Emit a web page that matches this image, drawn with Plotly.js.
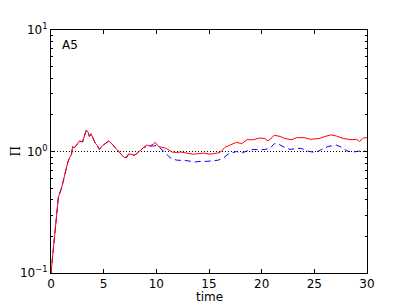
<!DOCTYPE html>
<html><head><meta charset="utf-8">
<script src="https://cdn.plot.ly/plotly-3.0.1.min.js"></script>
<style>html,body{margin:0;padding:0;background:#fff}</style>
</head><body>
<div id="chart" style="width:407px;height:305px"></div>
<script>
// Red (solid) series
const redX = [0,0.7,1.0,1.3,1.6,1.8,1.95,2.05,2.2,2.4,2.7,3.0,3.15,3.35,3.5,3.65,3.8,4.0,4.2,4.4,4.6,4.9,5.2,5.5,5.8,6.1,6.4,6.7,6.95,7.2,7.35,7.6,7.9,8.2,8.5,8.8,9.1,9.4,9.7,9.9,10.2,10.5,10.8,11.1,11.5,11.9,12.3,12.9,13.5,14.0,14.5,15.1,15.6,16.05,16.5,17.0,17.6,18.1,18.6,19.2,19.8,20.3,20.6,21.2,21.75,22.2,22.85,23.3,24.1,24.6,25.1,25.5,26.0,26.6,27.1,27.75,28.55,29.0,29.3,29.66,30];
const redY = [0.1,0.42,0.5,0.65,0.82,0.9,0.95,1.1,1.07,1.12,1.22,1.2,1.3,1.5,1.45,1.33,1.4,1.27,1.17,1.12,1.04,1.12,1.18,1.22,1.15,1.07,1.0,0.93,0.89,0.9,0.95,0.95,0.93,0.97,1.03,1.08,1.13,1.11,1.15,1.19,1.1,1.09,1.07,1.04,0.99,0.98,0.99,0.97,0.95,0.96,0.97,0.95,0.97,0.98,1.08,1.13,1.19,1.16,1.25,1.25,1.29,1.28,1.22,1.36,1.33,1.28,1.25,1.3,1.3,1.26,1.28,1.28,1.33,1.37,1.34,1.28,1.25,1.26,1.21,1.29,1.3];
// Blue (dashed) series
const blueX = [0,0.7,1.0,1.3,1.6,1.8,1.95,2.05,2.2,2.4,2.7,3.0,3.15,3.35,3.5,3.65,3.8,4.0,4.2,4.4,4.6,4.9,5.2,5.5,5.8,6.1,6.4,6.7,6.95,7.2,7.35,7.6,7.9,8.2,8.5,8.8,9.1,9.4,9.7,10.0,10.3,10.66,11.0,11.3,11.9,12.4,12.9,13.7,14.15,14.8,15.1,15.5,15.9,16.4,16.8,17.3,17.6,18.1,18.6,19.2,19.85,20.3,20.8,21.2,21.6,22.2,22.7,23.3,23.8,24.3,25.1,25.7,26.3,27.1,27.6,28.1,28.7,29.35,30];
const blueY = [0.1,0.42,0.5,0.65,0.82,0.9,0.95,1.1,1.07,1.12,1.22,1.2,1.3,1.5,1.45,1.33,1.4,1.27,1.17,1.12,1.04,1.12,1.18,1.22,1.15,1.07,1.0,0.93,0.89,0.9,0.95,0.95,0.93,0.97,1.03,1.08,1.1,1.1,1.11,1.12,1.08,1.01,0.94,0.89,0.85,0.85,0.84,0.82,0.83,0.83,0.83,0.84,0.85,0.89,0.95,0.98,1.0,0.97,1.01,1.04,1.03,1.04,1.06,1.16,1.15,1.08,1.04,1.06,1.06,1.01,0.98,1.04,1.1,1.13,1.08,1.01,0.99,1.01,1.0];
const yTickVals = [0.1, 1, 10];
const yTickText = ['10<sup>\u22121</sup>', '10<sup>0</sup>', '10<sup>1</sup>'];
const xTickVals = [0, 5, 10, 15, 20, 25, 30];
const yMinorVals = [0.2,0.3,0.4,0.5,0.6,0.7,0.8,0.9,2,3,4,5,6,7,8,9];
const refLevel = 1;

const font = {family: 'DejaVu Sans', size: 12, color: '#000'};
const traces = [
  {x: blueX, y: blueY, mode: 'lines', line: {color: '#0000ff', width: 1, dash: '6px,4px'}, hoverinfo: 'skip'},
  {x: redX, y: redY, mode: 'lines', line: {color: '#ff0000', width: 1}, hoverinfo: 'skip'}
];
const layout = {
  width: 407, height: 305,
  margin: {l: 51, r: 40, t: 30, b: 32, pad: 0},
  paper_bgcolor: '#fff', plot_bgcolor: '#fff',
  showlegend: false,
  font: font,
  xaxis: {
    range: [0, 30], tickvals: xTickVals, ticks: 'inside', ticklen: 4, tickwidth: 1, tickcolor: '#000',
    showline: true, linecolor: '#000', linewidth: 1, mirror: 'ticks', showgrid: false, zeroline: false,
    tickfont: font, ticklabelstandoff: 0
  },
  yaxis: {
    type: 'log', range: [-1, 1], tickvals: yTickVals, ticktext: yTickText,
    ticks: 'inside', ticklen: 4, tickwidth: 1, tickcolor: '#000',
    showline: true, linecolor: '#000', linewidth: 1, mirror: 'ticks', showgrid: false, zeroline: false,
    tickfont: font,
    minor: {tickmode: 'array', tickvals: yMinorVals, ticks: 'inside', ticklen: 2, tickcolor: '#000', showgrid: false}
  },
  shapes: [{type: 'line', xref: 'paper', x0: 0, x1: 1, yref: 'y', y0: refLevel, y1: refLevel,
    line: {color: '#000', width: 1, dash: '1px,2px'}, layer: 'below'}],
  annotations: [
    {text: 'A5', xref: 'paper', yref: 'paper', x: 0.03, y: 0.94, xanchor: 'left', yanchor: 'middle',
      showarrow: false, font: font},
    {text: 'time', xref: 'paper', yref: 'paper', x: 0.5, y: -0.066, xanchor: 'center', yanchor: 'top',
      showarrow: false, font: font, borderpad: 0},
    {text: 'Π', xref: 'paper', yref: 'paper', x: -0.111, y: 0.5, xanchor: 'center', yanchor: 'middle',
      textangle: -90, showarrow: false, font: {family: 'DejaVu Serif', size: 12, color: '#000'}}
  ]
};
Plotly.newPlot('chart', traces, layout, {displayModeBar: false, staticPlot: true});
</script>
</body></html>
